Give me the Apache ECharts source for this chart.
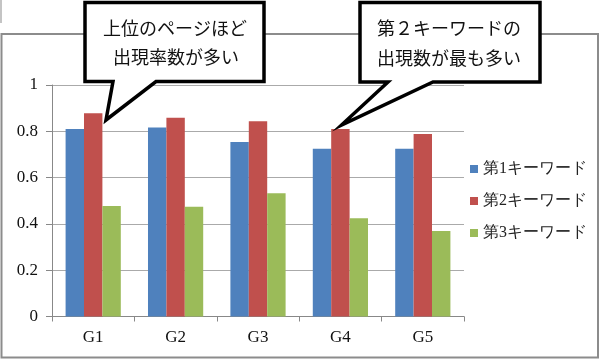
<!DOCTYPE html>
<html><head><meta charset="utf-8">
<script src="https://cdn.jsdelivr.net/npm/echarts@6/dist/echarts.min.js"></script>
<style>html,body{margin:0;padding:0;background:#fff}#c{width:600px;height:360px}</style>
</head><body><div id="c"></div>
<script>
var categories = ['G1','G2','G3','G4','G5'];
var seriesNames = ['第1キーワード','第2キーワード','第3キーワード'];
var kw1 = [0.81, 0.816, 0.754, 0.725, 0.725];
var kw2 = [0.878, 0.859, 0.843, 0.81, 0.788];
var kw3 = [0.477, 0.474, 0.532, 0.424, 0.369];
var yTicks = [0, 0.2, 0.4, 0.6, 0.8, 1];
var callout1 = ['上位のページほど', '出現率数が多い'];
var callout2 = ['第２キーワードの', '出現数が最も多い'];

var colors = ['#4F81BD', '#C0504D', '#9BBB59'];
var serif = 'serif';
var jp = 'Noto Sans CJK JP';
var chart = echarts.init(document.getElementById('c'), null, {renderer: 'canvas'});
var values = [kw1, kw2, kw3];
chart.setOption({
  animation: false,
  color: colors,
  grid: {left: 52, right: 136, top: 85, bottom: 43.5, containLabel: false},
  legend: {
    orient: 'vertical', left: 465, top: 156,
    icon: 'rect', itemWidth: 8, itemHeight: 8, itemGap: 16,
    textStyle: {fontFamily: serif, fontSize: 16, color: '#222'},
    data: seriesNames
  },
  xAxis: {
    type: 'category', data: categories,
    axisLine: {lineStyle: {color: '#888', width: 1}},
    axisTick: {show: true, length: 5, lineStyle: {color: '#888'}},
    axisLabel: {fontFamily: serif, fontSize: 17, color: '#111', margin: 13}
  },
  yAxis: {
    type: 'value', min: yTicks[0], max: yTicks[yTicks.length-1], interval: 0.2,
    axisLine: {show: true, lineStyle: {color: '#888', width: 1}},
    axisTick: {show: true, length: 6, lineStyle: {color: '#888'}},
    splitLine: {lineStyle: {color: '#aaa', width: 1}},
    axisLabel: {fontFamily: serif, fontSize: 17, color: '#111', margin: 14,
      formatter: function(v){ return String(Math.round(v*10)/10); }}
  },
  series: seriesNames.map(function(n, i){
    return {name: n, type: 'bar', data: values[i], barGap: '0%', barCategoryGap: '33%'};
  }),
  graphic: [
    {type: 'rect', z: 1, shape: {x: 1.5, y: 34, width: 596.5, height: 323.5},
      style: {fill: 'none', stroke: '#8c8c8c', lineWidth: 2}},
    {type: 'line', z: 1, shape: {x1: 1, y1: 0, x2: 1, y2: 23}, style: {stroke: '#b0b0b0', lineWidth: 1.5}},
    {type: 'polygon', z: 100, shape: {points: [[85,2.5],[264,2.5],[264,81.5],[156,81.5],[106,120],[113,81.5],[85,81.5]]},
      style: {fill: '#fff', stroke: '#000', lineWidth: 3.5, lineJoin: 'miter'}},
    {type: 'text', z: 101, style: {x: 175, y: 28, text: callout1[0], fontFamily: jp, fontSize: 18, fill: '#111', align: 'center', verticalAlign: 'middle'}},
    {type: 'text', z: 101, style: {x: 176, y: 57, text: callout1[1], fontFamily: jp, fontSize: 18, fill: '#111', align: 'center', verticalAlign: 'middle'}},
    {type: 'polygon', z: 100, shape: {points: [[360,2.5],[540,2.5],[540,82],[433,82],[341.5,125],[388,82],[360,82]]},
      style: {fill: '#fff', stroke: '#000', lineWidth: 3.5, lineJoin: 'miter'}},
    {type: 'text', z: 101, style: {x: 449, y: 28, text: callout2[0], fontFamily: jp, fontSize: 18, fill: '#111', align: 'center', verticalAlign: 'middle'}},
    {type: 'text', z: 101, style: {x: 449, y: 58, text: callout2[1], fontFamily: jp, fontSize: 18, fill: '#111', align: 'center', verticalAlign: 'middle'}}
  ]
});
</script></body></html>
